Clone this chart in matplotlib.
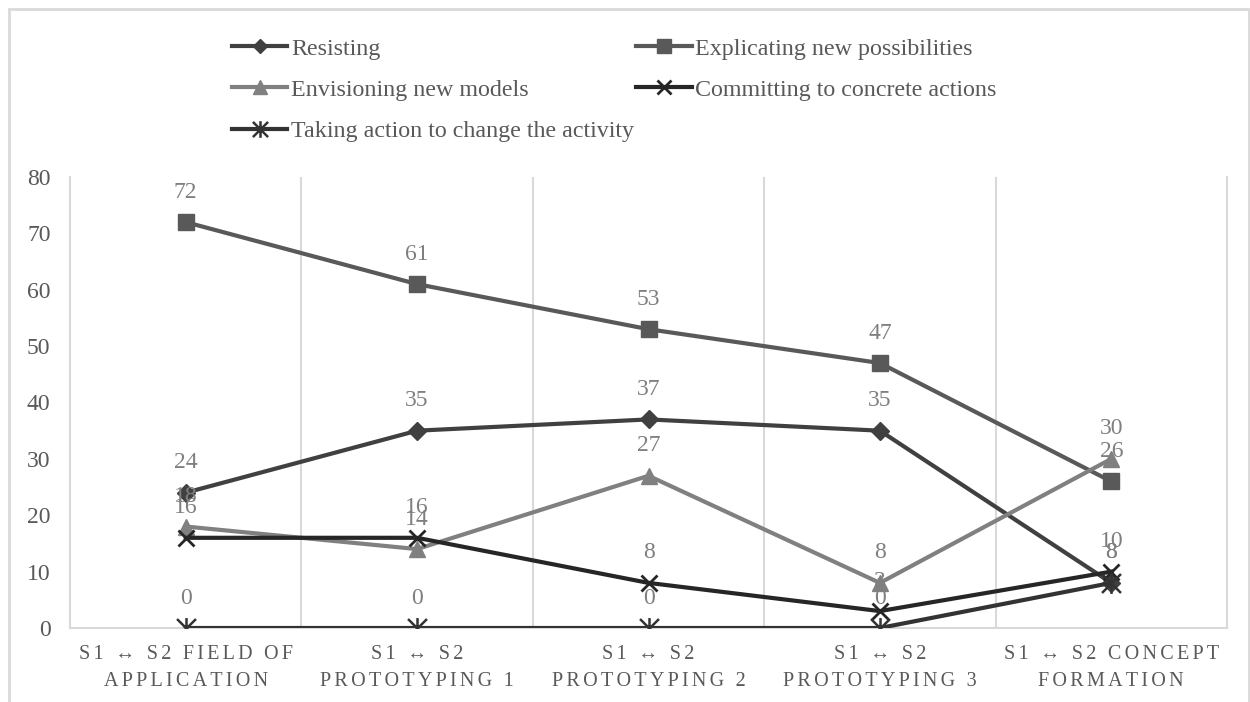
import matplotlib
matplotlib.use("Agg")
import matplotlib.pyplot as plt
from matplotlib.path import Path
from matplotlib.patches import Rectangle

categories = ["S1 ↔ S2 FIELD OF\nAPPLICATION", "S1 ↔ S2\nPROTOTYPING 1", "S1 ↔ S2\nPROTOTYPING 2",
              "S1 ↔ S2\nPROTOTYPING 3", "S1 ↔ S2 CONCEPT\nFORMATION"]
series_names = ["Resisting", "Explicating new possibilities", "Envisioning new models",
                "Committing to concrete actions", "Taking action to change the activity"]
resisting = [24, 35, 37, 35, 8]
explicating = [72, 61, 53, 47, 26]
envisioning = [18, 14, 27, 8, 30]
committing = [16, 16, 8, 3, 10]
taking_action = [0, 0, 0, 0, 8]
y_ticks = [0, 10, 20, 30, 40, 50, 60, 70, 80]

plt.rcParams['font.family'] = ['Liberation Serif', 'DejaVu Serif']

W, H = 1250, 702
fig = plt.figure(figsize=(W / 100, H / 100), dpi=100)
ax = fig.add_axes([70 / W, 1 - 628 / H, (1227 - 70) / W, (628 - 177) / H])

asterisk = Path([(-1, -1), (1, 1), (-1, 1), (1, -1), (0, -1.1), (0, 1.1)],
                [Path.MOVETO, Path.LINETO, Path.MOVETO, Path.LINETO, Path.MOVETO, Path.LINETO])

styles = [
    dict(color="#404040", marker="D", ms=9),
    dict(color="#595959", marker="s", ms=12),
    dict(color="#808080", marker="^", ms=12),
    dict(color="#262626", marker="x", ms=12, mew=2),
    dict(color="#333333", marker=asterisk, ms=15, mew=1.8),
]
data = [resisting, explicating, envisioning, committing, taking_action]
x = list(range(len(categories)))

handles = []
for name, vals, st in zip(series_names, data, styles):
    ln, = ax.plot(x, vals, lw=3, label=name, zorder=3, **st)
    handles.append(ln)

for vals in data:
    for xi, v in zip(x, vals):
        ax.annotate(str(v), (xi, v), xytext=(0, 14), textcoords="offset points",
                    ha="center", va="bottom", fontsize=17, color="#7f7f7f", zorder=5)

ax.set_xlim(-0.5, len(categories) - 0.5)
ax.set_ylim(0, 80)
ax.set_yticks(y_ticks)
ax.set_yticklabels([str(t) for t in y_ticks], fontsize=17, color="#595959")

def spaced(s):
    return "\n".join("\u200a\u200a".join(list(line)) for line in s.split("\n"))

ax.set_xticks(x)
ax.set_xticklabels([spaced(c) for c in categories], fontsize=14.5, color="#595959", linespacing=1.6)
ax.tick_params(axis="both", length=0)
ax.tick_params(axis="y", pad=14)
ax.tick_params(axis="x", pad=12)

for b in [i + 0.5 for i in range(len(categories) - 1)]:
    ax.axvline(b, color="#d9d9d9", lw=1.5, zorder=1)
for side in ["left", "right", "bottom"]:
    ax.spines[side].set_color("#d9d9d9")
    ax.spines[side].set_linewidth(1.5)
ax.spines["top"].set_visible(False)

order = [0, 2, 4, 1, 3]
leg = fig.legend(handles=[handles[i] for i in order], loc="upper left",
                 bbox_to_anchor=(220 / W, 1 - 26 / H),
                 ncol=2, frameon=False, fontsize=17.3, handlelength=2.3, handletextpad=0.15,
                 columnspacing=0.1, labelspacing=0.8, borderpad=0,
                 labelcolor="#595959")
for h in leg.legend_handles:
    h.set_markersize(h.get_markersize() * 0.8)

fig.add_artist(Rectangle((8.5 / W, -0.05), (1248.5 - 8.5) / W, 1 - 8.5 / H + 0.05,
                         transform=fig.transFigure, fill=False, edgecolor="#d9d9d9", lw=2))

fig.savefig("out.png", dpi=100)
